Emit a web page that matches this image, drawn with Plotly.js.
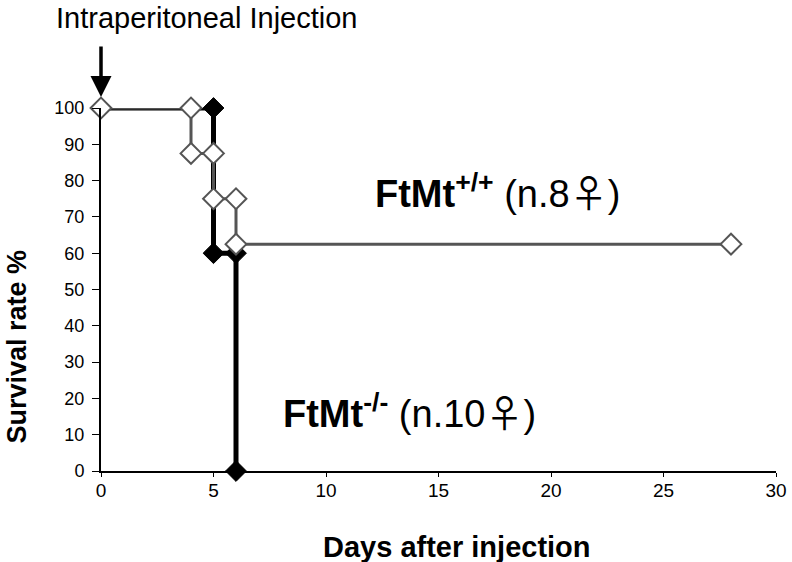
<!DOCTYPE html>
<html><head><meta charset="utf-8">
<script src="https://cdn.plot.ly/plotly-3.0.1.min.js"></script>
<style>html,body{margin:0;padding:0;background:#fff}#chart{width:792px;height:562px}</style>
</head><body><div id="chart"></div>
<script>
// Days and survival (%) for each group (step points)
const koDays = [0, 5, 5, 6, 6];
const koSurvival = [100, 100, 60, 60, 0];
const wtDays = [0, 4, 4, 5, 5, 6, 6, 28];
const wtSurvival = [100, 100, 87.5, 87.5, 75, 75, 62.5, 62.5];
const xTicks = [0, 5, 10, 15, 20, 25, 30];
const yTicks = [0, 10, 20, 30, 40, 50, 60, 70, 80, 90, 100];

const traces = [
  {x: koDays, y: koSurvival, mode: 'lines+markers', cliponaxis: false,
   line: {color: '#000', width: 5},
   marker: {symbol: 'diamond', size: 16, color: '#000', line: {color: '#000', width: 1}}},
  {x: wtDays, y: wtSurvival, mode: 'lines+markers', cliponaxis: false,
   line: {color: '#555', width: 3},
   marker: {symbol: 'diamond', size: 16, color: '#fff', line: {color: '#555', width: 2}}}
];

const font = 'Liberation Sans, Arial, sans-serif';
const fem = '<span style="font-family:Noto Sans CJK JP">♀</span>';
const layout = {
  width: 792, height: 562, showlegend: false,
  paper_bgcolor: '#fff', plot_bgcolor: '#fff',
  margin: {l: 101, r: 16, t: 108, b: 91},
  xaxis: {range: [0, 30], tickvals: xTicks, ticks: 'outside', ticklen: 4, tickcolor: '#000',
    ticklabelstandoff: -3,
    showgrid: false, zeroline: false, showline: true, linecolor: '#000', linewidth: 2,
    tickfont: {family: font, size: 19, color: '#000'}},
  yaxis: {range: [0, 100], tickvals: yTicks, ticks: 'outside', ticklen: 7, tickcolor: '#000',
    ticklabelstandoff: 4,
    showgrid: false, zeroline: false, showline: true, linecolor: '#000', linewidth: 2,
    tickfont: {family: font, size: 18, color: '#000'}},
  annotations: [
    {xref: 'paper', yref: 'paper', x: 0.527, y: -0.209, xanchor: 'center', yanchor: 'middle',
     text: '<b>Days after injection</b>', showarrow: false, font: {family: font, size: 29, color: '#000'}},
    {xref: 'paper', yref: 'paper', x: -0.125, y: 0.342, xanchor: 'center', yanchor: 'middle', textangle: -90,
     text: '<b>Survival rate %</b>', showarrow: false, font: {family: font, size: 27, color: '#000'}},
    {xref: 'paper', yref: 'paper', x: 0.157, y: 1.247, xanchor: 'center', yanchor: 'middle',
     text: 'Intraperitoneal Injection', showarrow: false, font: {family: font, size: 29, color: '#000'}},
    {x: 0, y: 100, xref: 'x', yref: 'y', text: '', showarrow: true, arrowhead: 2, arrowsize: 1.2,
     arrowwidth: 3.5, arrowcolor: '#000', ax: 0, ay: -63, standoff: 11},
    {x: 17.6, y: 77.4, xref: 'x', yref: 'y', xanchor: 'center', yanchor: 'middle', showarrow: false,
     text: '<b>FtMt</b><sup><b>+/+</b></sup> (n.8' + fem + ')', font: {family: font, size: 38, color: '#000'}},
    {x: 13.7, y: 16.8, xref: 'x', yref: 'y', xanchor: 'center', yanchor: 'middle', showarrow: false,
     text: '<b>FtMt</b><sup><b>-/-</b></sup> (n.10' + fem + ')', font: {family: font, size: 38, color: '#000'}}
  ]
};
Plotly.newPlot('chart', traces, layout, {displayModeBar: false, staticPlot: true});
</script></body></html>
